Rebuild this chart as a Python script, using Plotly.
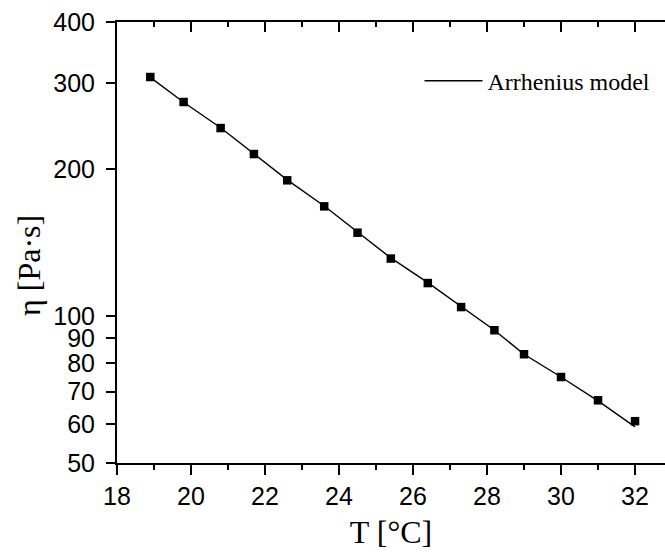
import plotly.graph_objects as go
import math

# Data
T_data = [18.9, 19.8, 20.8, 21.7, 22.6, 23.6, 24.5, 25.4, 26.4, 27.3, 28.2, 29.0, 30.0, 31.0, 32.0]
eta_data = [308.6, 274.3, 242.6, 214.6, 189.6, 167.7, 148.1, 131.1, 116.8, 104.3, 93.5, 83.5, 75.0, 67.2, 60.9]
eta_model = [308.0, 274.0, 243.0, 215.0, 190.0, 168.0, 148.5, 131.5, 117.0, 104.5, 93.5, 83.5, 75.0, 67.0, 59.3]
y_ticks = [50, 60, 70, 80, 90, 100, 200, 300, 400]
x_ticks = [18, 20, 22, 24, 26, 28, 30, 32]
x_minor = [19, 21, 23, 25, 27, 29, 31]

W, H = 665, 556
L, T, R = 117, 22, 0
B = H - 463
PW, PH = W - L - R, H - T - B
xr = [18, 32.81]
yr = [math.log10(50), math.log10(400)]

serif = "Times New Roman, Liberation Serif, serif"
sans = "Arial, Liberation Sans, sans-serif"

fig = go.Figure()
fig.add_trace(go.Scatter(x=T_data, y=eta_model, mode="lines", name="Arrhenius model",
                         line=dict(color="black", width=1.4), showlegend=True))
fig.add_trace(go.Scatter(x=T_data, y=eta_data, mode="markers", name="data",
                         marker=dict(symbol="square", size=8.5, color="black"), showlegend=False))
# carrier trace so the top axis (inward ticks) is drawn
fig.add_trace(go.Scatter(x=[T_data[0]], y=[eta_data[0]], xaxis="x2", yaxis="y", mode="markers",
                         marker=dict(opacity=0), hoverinfo="skip", showlegend=False))

fig.update_layout(
    width=W, height=H,
    margin=dict(l=L, r=R, t=T, b=B, autoexpand=False),
    paper_bgcolor="white", plot_bgcolor="white",
    xaxis=dict(range=xr, tickvals=x_ticks, ticks="outside", ticklen=10, tickwidth=1.5,
               tickcolor="black", showline=True, mirror=True, linecolor="black", linewidth=2,
               showgrid=False, zeroline=False, ticklabeloverflow="allow",
               tickfont=dict(family=sans, size=25, color="black"),
               minor=dict(tickvals=x_minor, ticks="outside", ticklen=5,
                          tickwidth=1.5, tickcolor="black", showgrid=False),
               title=dict(text="T [°C]", font=dict(family=serif, size=32, color="black"), standoff=12)),
    xaxis2=dict(range=xr, overlaying="x", anchor="y", side="top",
                tickvals=x_ticks, ticks="inside", ticklen=10,
                tickwidth=1.5, tickcolor="black", showline=True, linecolor="black", linewidth=2,
                showgrid=False, zeroline=False, showticklabels=False,
                minor=dict(tickvals=x_minor, ticks="inside", ticklen=5,
                           tickwidth=1.5, tickcolor="black", showgrid=False)),
    yaxis=dict(type="log", range=yr, tickvals=y_ticks, ticktext=[str(v) for v in y_ticks],
               ticks="outside", ticklen=9, tickwidth=1.5, tickcolor="black",
               showline=True, linecolor="black", linewidth=2, showgrid=False, zeroline=False,
               ticklabeloverflow="allow",
               tickfont=dict(family=sans, size=25, color="black"), ticklabelstandoff=6),
    legend=dict(x=0.552, y=0.866, xanchor="left", yanchor="middle", bgcolor="rgba(0,0,0,0)",
                font=dict(family=serif, size=24, color="black"), itemwidth=58),
    showlegend=True,
)

fig.add_annotation(text="η [Pa·s]", textangle=-90, xref="paper", yref="paper",
                   x=(29 - L) / PW, y=(H - B - 266) / PH,
                   xanchor="center", yanchor="middle", showarrow=False,
                   font=dict(family=serif, size=32, color="black"))

fig.write_html("out.html", config={"displayModeBar": False},
               post_script="document.body.style.margin='0';document.body.style.overflow='hidden';")
